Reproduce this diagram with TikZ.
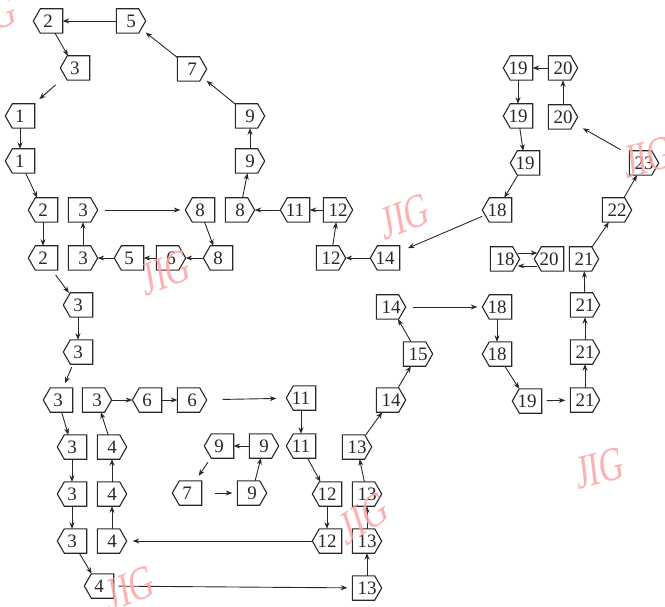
\documentclass[tikz,border=0pt]{standalone}
\usepackage{fontspec}
\setmainfont{Liberation Serif}
\usetikzlibrary{arrows.meta}

\definecolor{ink}{RGB}{40,40,40}
\definecolor{wmark}{RGB}{250,165,165}

\tikzset{
  box/.style={shape=rectangle, minimum width=29pt, minimum height=24pt, inner sep=0pt,
    text=ink, font=\fontsize{19}{19}\selectfont},
  bord/.style={draw=ink, line width=1.1pt, line join=miter},
  ar/.style={draw=ink, line width=0.9pt, -{Stealth[length=6.5pt,width=5pt]}},
  wm/.style={text=wmark, opacity=0.85, font=\fontsize{48}{48}\selectfont, inner sep=0pt, xscale=0.7}
}
% tag-shaped boxes: pointed on the left (\ltag) or on the right (\rtag)
\newcommand\ltag[3]{%
  \node[box] (#1) at (#2) {#3};
  \draw[bord] ([xshift=7pt]#1.north west) -- (#1.north east) -- (#1.south east)
    -- ([xshift=7pt]#1.south west) -- (#1.west) -- cycle;}
\newcommand\rtag[3]{%
  \node[box] (#1) at (#2) {#3};
  \draw[bord] (#1.north west) -- ([xshift=-7pt]#1.north east) -- (#1.east)
    -- ([xshift=-7pt]#1.south east) -- (#1.south west) -- cycle;}

\begin{document}
\begin{tikzpicture}[x=1pt, y=-1pt]
\useasboundingbox (0,0) rectangle (665,607);

% upper left ring
\ltag{a1}{48,21}{2}
\rtag{a2}{131,21}{5}
\ltag{a3}{75,68}{3}
\rtag{a4}{192,69}{7}
\ltag{a5}{20,116}{1}
\rtag{a6}{250,116}{9}
\ltag{a7}{20,161}{1}
\rtag{a8}{250,161}{9}

\ltag{b1}{43,210}{2}
\rtag{b2}{83,210}{3}
\ltag{b3}{200,210}{8}
\rtag{b4}{240,210}{8}
\ltag{b5}{295,210}{11}
\rtag{b6}{338,210}{12}

\ltag{c1}{43,258}{2}
\rtag{c2}{83,258}{3}
\ltag{c3}{129,258}{5}
\rtag{c4}{171,258}{6}
\ltag{c5}{218,258}{8}
\rtag{c6}{331,258}{12}
\ltag{c7}{385,258}{14}

\ltag{d1}{78,305}{3}
\ltag{d2}{78,352}{3}

% lower left block
\ltag{e1}{58,400}{3}
\rtag{e2}{97,400}{3}
\ltag{e3}{147,400}{6}
\rtag{e4}{192,400}{6}
\ltag{e5}{301,398}{11}

\ltag{f1}{72,447}{3}
\rtag{f2}{112,447}{4}
\ltag{f3}{219,446}{9}
\rtag{f4}{264,446}{9}
\ltag{f5}{301,446}{11}
\rtag{f6}{357,447}{13}

\ltag{g1}{72,494}{3}
\rtag{g2}{112,494}{4}
\ltag{g3}{187,493}{7}
\rtag{g4}{252,493}{9}
\ltag{g5}{327,494}{12}
\rtag{g6}{367,494}{13}

\ltag{h1}{72,541}{3}
\rtag{h2}{112,541}{4}
\ltag{h3}{327,541}{12}
\rtag{h4}{367,541}{13}

\ltag{i1}{99,586}{4}
\rtag{i2}{367,588}{13}

% right part
\rtag{r1}{391,400}{14}
\rtag{r2}{418,354}{15}
\rtag{r3}{391,307}{14}
\ltag{r4}{497,307}{18}
\ltag{r5}{497,354}{18}
\ltag{r6}{527,401}{19}
\rtag{r7}{585,400}{21}
\rtag{r8}{585,352}{21}
\rtag{r9}{585,305}{21}
\rtag{r10}{584,259}{21}
\rtag{r11}{505,259}{18}
\ltag{r12}{549,259}{20}
\rtag{r13}{617,210}{22}
\rtag{r14}{644,163}{23}
\rtag{r15}{563,117}{20}
\rtag{r16}{563,68}{20}
\ltag{r17}{518,68}{19}
\ltag{r18}{518,116}{19}
\ltag{r19}{525,163}{19}
\ltag{r20}{497,210}{18}

% connectors, upper left
\draw[ar] (a2) -- (a1);
\draw[ar] (a1) -- (a3);
\draw[ar, shorten <=7pt, shorten >=7pt] (a3) -- (a5);
\draw[ar] (a4) -- (a2);
\draw[ar] (a6) -- (a4);
\draw[ar] (a8) -- (a6);
\draw[ar] (a5) -- (a7);
\draw[ar] (a7) -- (b1);
\draw[ar, shorten <=7pt, shorten >=5pt] (b2) -- (b3);
\draw[ar] (b3) -- (c5);
\draw[ar] (b4) -- (a8);
\draw[ar] (b5) -- (b4);
\draw[ar] (b6) -- (b5);
\draw[ar] (b1) -- (c1);
\draw[ar] (c2) -- (b2);
\draw[ar] (c3) -- (c2);
\draw[ar] (c4) -- (c3);
\draw[ar] (c5) -- (c4);
\draw[ar] (c6) -- (b6);
\draw[ar] (c7) -- (c6);
\draw[ar, shorten >=9pt] (r20) -- (c7);
\draw[ar, shorten <=6pt] (c1) -- (d1);
\draw[ar] (d1) -- (d2);
\draw[ar, shorten <=3pt, shorten >=5pt] (d2) -- (e1);

% connectors, lower left
\draw[ar] (e2) -- (e3);
\draw[ar] (e3) -- (e4);
\draw[ar, shorten <=16pt, shorten >=10pt] (e4) -- (e5);
\draw[ar] (e1) -- (f1);
\draw[ar] (f2) -- (e2);
\draw[ar] (f1) -- (g1);
\draw[ar] (g2) -- (f2);
\draw[ar] (f4) -- (f3);
\draw[ar, shorten <=5pt, shorten >=6pt] (f3) -- (g3);
\draw[ar, shorten <=13pt, shorten >=5pt] (g3) -- (g4);
\draw[ar] (g4) -- (f4);
\draw[ar] (e5) -- (f5);
\draw[ar] (f5) -- (g5);
\draw[ar] (g5) -- (h3);
\draw[ar, shorten >=6pt] (h3) -- (h2);
\draw[ar] (g1) -- (h1);
\draw[ar] (h2) -- (g2);
\draw[ar] (h1) -- (i1);
\draw[ar, shorten <=5pt, shorten >=5pt] (i1) -- (i2);
\draw[ar] (i2) -- (h4);
\draw[ar] (h4) -- (g6);
\draw[ar] (g6) -- (f6);
\draw[ar] (f6) -- (r1);

% connectors, right part
\draw[ar] (r1) -- (r2);
\draw[ar] (r2) -- (r3);
\draw[ar, shorten <=7pt, shorten >=5pt] (r3) -- (r4);
\draw[ar] (r4) -- (r5);
\draw[ar] (r5) -- (r6);
\draw[ar, shorten <=5pt, shorten >=5pt] (r6) -- (r7);
\draw[ar] (r7) -- (r8);
\draw[ar] (r8) -- (r9);
\draw[ar] (r9) -- (r10);
\draw[ar] (r10) -- (r13);
\draw[ar] (r13) -- (r14);
\draw[ar, shorten <=10pt, shorten >=6pt] (r14) -- (r15);
\draw[ar] (r15) -- (r16);
\draw[ar] (r16) -- (r17);
\draw[ar] (r17) -- (r18);
\draw[ar] (r18) -- (r19);
\draw[ar] (r19) -- (r20);
\draw[ar] ([yshift=6pt,xshift=-2pt]r11.east) -- ([yshift=6pt,xshift=3pt]r12.west);
\draw[ar] ([yshift=-7pt,xshift=3pt]r12.west) -- ([yshift=-7pt,xshift=-2pt]r11.east);

% faint stamps over the diagram
\node[wm, rotate=15] at (-8,16) {JIG};
\node[wm, rotate=15] at (405,216) {JIG};
\node[wm, rotate=15] at (166,272) {JIG};
\node[wm, rotate=10] at (600,468) {JIG};
\node[wm, rotate=10] at (648,157) {JIG};
\node[wm, rotate=25] at (364,518) {JIG};
\node[wm, rotate=15] at (130,588) {JIG};
\end{tikzpicture}
\end{document}
